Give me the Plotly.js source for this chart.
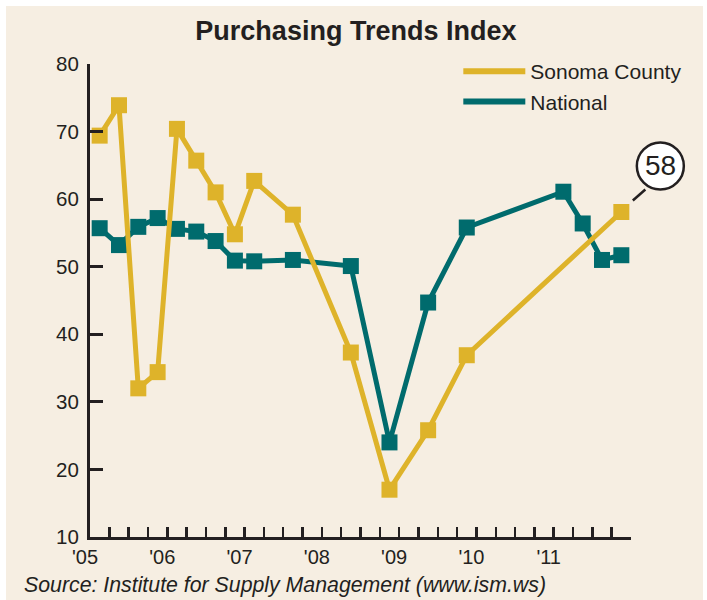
<!DOCTYPE html>
<html>
<head>
<meta charset="utf-8">
<script src="https://cdn.plot.ly/plotly-3.0.1.min.js"></script>
<style>
  html, body { margin: 0; padding: 0; background: #ffffff; }
  #chart { position: absolute; left: 6px; top: 6px; width: 697px; height: 594px; }
</style>
</head>
<body>
<div id="chart"></div>
<script>
// ---- data ----
const sonomaQuarters = ["2005-Q1","2005-Q2","2005-Q3","2005-Q4","2006-Q1","2006-Q2","2006-Q3","2006-Q4",
                        "2007-Q1","2007-Q3","2008-Q2","2008-Q4","2009-Q2","2009-Q4","2011-Q4"];
const sonomaValues   = [69.4, 73.9, 32.0, 34.4, 70.4, 65.7, 61.0, 54.8, 62.7, 57.7, 37.3, 17.0, 25.8, 36.9, 58.1];

const nationalQuarters = ["2005-Q1","2005-Q2","2005-Q3","2005-Q4","2006-Q1","2006-Q2","2006-Q3","2006-Q4",
                          "2007-Q1","2007-Q3","2008-Q2","2008-Q4","2009-Q2","2009-Q4","2011-Q1","2011-Q2","2011-Q3","2011-Q4"];
const nationalValues   = [55.7, 53.2, 55.9, 57.2, 55.6, 55.2, 53.8, 50.9, 50.8, 51.0, 50.1, 24.0, 44.7, 55.8, 61.1, 56.4, 51.0, 51.7];

const yearTicks  = [2005, 2006, 2007, 2008, 2009, 2010, 2011];
const yearLabels = ["'05", "'06", "'07", "'08", "'09", "'10", "'11"];
const seriesNames = ["Sonoma County", "National"];
const titleText = "Purchasing Trends Index";
const sourceText = "Source: Institute for Supply Management (www.ism.ws)";

// ---- helpers ----
// a quarter is placed at its midpoint on a continuous year axis
function quarterPos(q) {
  const parts = q.split("-Q");
  return Number(parts[0]) + (Number(parts[1]) - 0.5) / 4;
}

const YELLOW = "#DEB32A";
const TEAL = "#006B6D";
const INK = "#231F20";
const FONT = "'Liberation Sans', Arial, Helvetica, sans-serif";

const X_RANGE = [2005, 2012];
const Y_RANGE = [10, 80];

const sonomaX = sonomaQuarters.map(quarterPos);
const nationalX = nationalQuarters.map(quarterPos);
const lastX = sonomaX[sonomaX.length - 1];
const lastY = sonomaValues[sonomaValues.length - 1];
// anchor of the callout, as a fraction of the plot area (so it is not clipped)
const anchorPX = (lastX - X_RANGE[0]) / (X_RANGE[1] - X_RANGE[0]);
const anchorPY = (lastY - Y_RANGE[0]) / (Y_RANGE[1] - Y_RANGE[0]);

const traces = [
  { // legend entries (line only)
    x: [null], y: [null], type: "scatter", mode: "lines", name: seriesNames[0],
    line: { color: YELLOW, width: 6 }, hoverinfo: "skip"
  },
  {
    x: [null], y: [null], type: "scatter", mode: "lines", name: seriesNames[1],
    line: { color: TEAL, width: 6 }, hoverinfo: "skip"
  },
  {
    x: nationalX, y: nationalValues, type: "scatter", mode: "lines+markers", name: seriesNames[1],
    showlegend: false, cliponaxis: false,
    line: { color: TEAL, width: 5 },
    marker: { symbol: "square", size: 16, color: TEAL, line: { width: 0 } }
  },
  {
    x: sonomaX, y: sonomaValues, type: "scatter", mode: "lines+markers", name: seriesNames[0],
    showlegend: false, cliponaxis: false,
    line: { color: YELLOW, width: 5 },
    marker: { symbol: "square", size: 16, color: YELLOW, line: { width: 0 } }
  }
];

const layout = {
  width: 697, height: 594,
  paper_bgcolor: "#F6EEE2",
  plot_bgcolor: "rgba(0,0,0,0)",
  margin: { l: 84, r: 72, t: 58, b: 63 },
  font: { family: FONT, color: INK, size: 20 },
  title: {
    text: "<b>" + titleText + "</b>",
    font: { family: FONT, size: 27, color: INK },
    xref: "container", yref: "container",
    x: 0.502, y: 1 - 25 / 594, xanchor: "center", yanchor: "middle"
  },
  showlegend: true,
  legend: {
    x: 0.6808, y: 1.0275, xanchor: "left", yanchor: "top",
    bgcolor: "rgba(0,0,0,0)", borderwidth: 0,
    font: { family: FONT, size: 21, color: INK },
    itemwidth: 62, tracegroupgap: 0
  },
  xaxis: {
    range: X_RANGE,
    tickmode: "array", tickvals: yearTicks, ticktext: yearLabels,
    ticks: "inside", ticklen: 10, tickwidth: 2.5, tickcolor: INK,
    ticklabelshift: -5,
    minor: { tickmode: "linear", tick0: 2005, dtick: 0.25, ticks: "inside", ticklen: 10, tickwidth: 2.5, tickcolor: INK, showgrid: false },
    showline: true, linewidth: 3, linecolor: INK,
    showgrid: false, zeroline: false,
    tickfont: { family: FONT, size: 20, color: INK },
    fixedrange: true
  },
  yaxis: {
    range: Y_RANGE, dtick: 10, tick0: 10,
    ticks: "inside", ticklen: 13, tickwidth: 3, tickcolor: INK,
    ticklabelstandoff: 4,
    showline: true, linewidth: 3, linecolor: INK,
    showgrid: false, zeroline: false,
    tickfont: { family: FONT, size: 20.5, color: INK },
    fixedrange: true
  },
  shapes: [
    { // leader line to the callout
      type: "line", xref: "paper", yref: "paper", xsizemode: "pixel", ysizemode: "pixel",
      xanchor: anchorPX, yanchor: anchorPY, x0: 11.5, y0: 11.5, x1: 24, y1: 22.5,
      line: { color: INK, width: 2.5 }, layer: "above"
    },
    { // callout circle
      type: "circle", xref: "paper", yref: "paper", xsizemode: "pixel", ysizemode: "pixel",
      xanchor: anchorPX, yanchor: anchorPY, x0: 15.5, x1: 62.5, y0: 22.5, y1: 69.5,
      fillcolor: "#ffffff", line: { color: INK, width: 2.5 }, layer: "above"
    }
  ],
  annotations: [
    {
      x: lastX, y: lastY, xref: "x", yref: "y", xshift: 39, yshift: 46,
      text: String(Math.round(lastY)), showarrow: false,
      font: { family: FONT, size: 28, color: INK }, xanchor: "center", yanchor: "middle"
    },
    {
      x: -0.1257, y: -0.1015, xref: "paper", yref: "paper", xanchor: "left", yanchor: "middle",
      text: "<i>" + sourceText + "</i>", showarrow: false,
      font: { family: FONT, size: 21.3, color: INK }
    }
  ]
};

Plotly.newPlot("chart", traces, layout, { displayModeBar: false, staticPlot: true });
</script>
</body>
</html>
